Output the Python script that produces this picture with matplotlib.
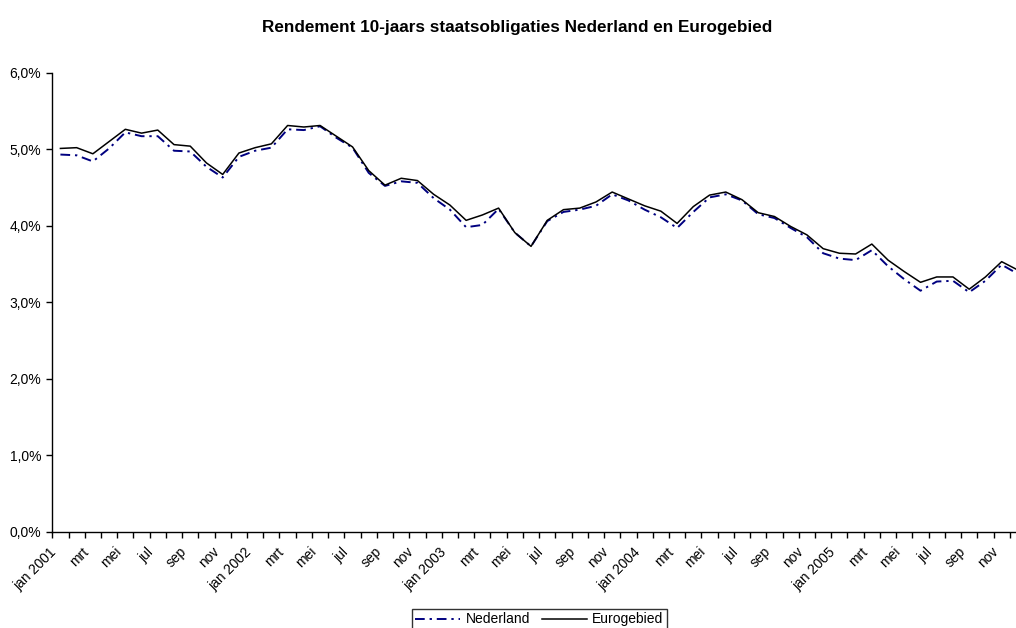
import matplotlib
matplotlib.use("Agg")
import matplotlib.pyplot as plt
from matplotlib.ticker import FixedLocator, FuncFormatter
from matplotlib.transforms import ScaledTranslation

plt.rcParams['font.family'] = ['Liberation Sans', 'DejaVu Sans']

# Monthly 10-year government bond yields (%), jan 2001 - dec 2005
months = ["jan", "feb", "mrt", "apr", "mei", "jun",
          "jul", "aug", "sep", "okt", "nov", "dec"]
years = [2001, 2002, 2003, 2004, 2005]

nederland = [
    4.93, 4.92, 4.84, 5.01, 5.22, 5.17, 5.17, 4.98, 4.97, 4.77, 4.63, 4.90,
    4.98, 5.02, 5.26, 5.25, 5.30, 5.15, 5.02, 4.69, 4.52, 4.58, 4.56, 4.36,
    4.21, 3.98, 4.01, 4.22, 3.91, 3.73, 4.06, 4.18, 4.21, 4.26, 4.41, 4.33,
    4.21, 4.11, 3.97, 4.18, 4.37, 4.41, 4.33, 4.15, 4.10, 3.97, 3.85, 3.64,
    3.57, 3.55, 3.68, 3.47, 3.30, 3.15, 3.27, 3.28, 3.13, 3.28, 3.49, 3.37,
]
eurogebied = [
    5.01, 5.02, 4.94, 5.10, 5.26, 5.21, 5.25, 5.06, 5.04, 4.82, 4.67, 4.95,
    5.02, 5.07, 5.31, 5.29, 5.31, 5.17, 5.03, 4.72, 4.53, 4.62, 4.59, 4.41,
    4.27, 4.07, 4.14, 4.23, 3.91, 3.73, 4.07, 4.21, 4.23, 4.31, 4.44, 4.35,
    4.26, 4.19, 4.03, 4.25, 4.40, 4.44, 4.34, 4.17, 4.12, 3.99, 3.88, 3.70,
    3.64, 3.63, 3.76, 3.55, 3.40, 3.26, 3.33, 3.33, 3.17, 3.33, 3.53, 3.42,
]

# Category labels: every second month, year shown in january
labels = []
for y in years:
    for m, name in enumerate(months):
        labels.append(f"{name} {y}" if m == 0 else name)

n = len(eurogebied)
x = list(range(n))

fig = plt.figure(figsize=(10.16, 6.28), dpi=100)
ax = fig.add_axes([52.3 / 1016, 96.3 / 628, (1026 - 52.3) / 1016, (531.7 - 72.7) / 628])

ax.plot(x, nederland, color="#000080", lw=1.4, dashes=(5, 2.5, 1.2, 2.5), label="Nederland")
ax.plot(x, eurogebied, color="black", lw=1.1, label="Eurogebied")

ax.set_xlim(-0.5, n - 0.5)
ax.set_ylim(0, 6)

# y axis
ax.yaxis.set_major_locator(FixedLocator([0, 1, 2, 3, 4, 5, 6]))
ax.yaxis.set_major_formatter(FuncFormatter(lambda v, p: f"{v:.1f}%".replace(".", ",")))
ax.tick_params(axis="y", direction="out", length=4, width=1, labelsize=10, pad=4, colors="black")

# x axis: tick marks between categories, labels on every second category
ax.xaxis.set_minor_locator(FixedLocator([i - 0.5 for i in range(n + 1)]))
ax.xaxis.set_major_locator(FixedLocator(list(range(0, n, 2))))
ax.set_xticklabels([labels[i] for i in range(0, n, 2)], rotation=45, ha="right",
                   va="center", rotation_mode="anchor", fontsize=10)
ax.tick_params(axis="x", which="major", length=0, pad=13)
ax.tick_params(axis="x", which="minor", direction="out", length=4, width=1)
shift = ScaledTranslation(-6 / 100, 0, fig.dpi_scale_trans)
for lab in ax.get_xticklabels():
    lab.set_transform(lab.get_transform() + shift)

for side in ("top", "right"):
    ax.spines[side].set_visible(False)
for side in ("left", "bottom"):
    ax.spines[side].set_linewidth(1)
    ax.spines[side].set_color("black")

fig.suptitle("Rendement 10-jaars staatsobligaties Nederland en Eurogebied",
             x=517 / 1016, y=1 - 20 / 628, fontsize=12.3, fontweight="bold", va="top")

leg = fig.legend(loc="upper center", bbox_to_anchor=(539.5 / 1016, 1 - 609 / 628), ncol=2,
                 fontsize=10, frameon=True, fancybox=False, shadow=False,
                 handlelength=3.2, handletextpad=0.4, columnspacing=0.9,
                 borderpad=0.25, borderaxespad=0)
leg.get_frame().set_edgecolor("black")
leg.get_frame().set_linewidth(1)

fig.savefig("out.png", dpi=100)
